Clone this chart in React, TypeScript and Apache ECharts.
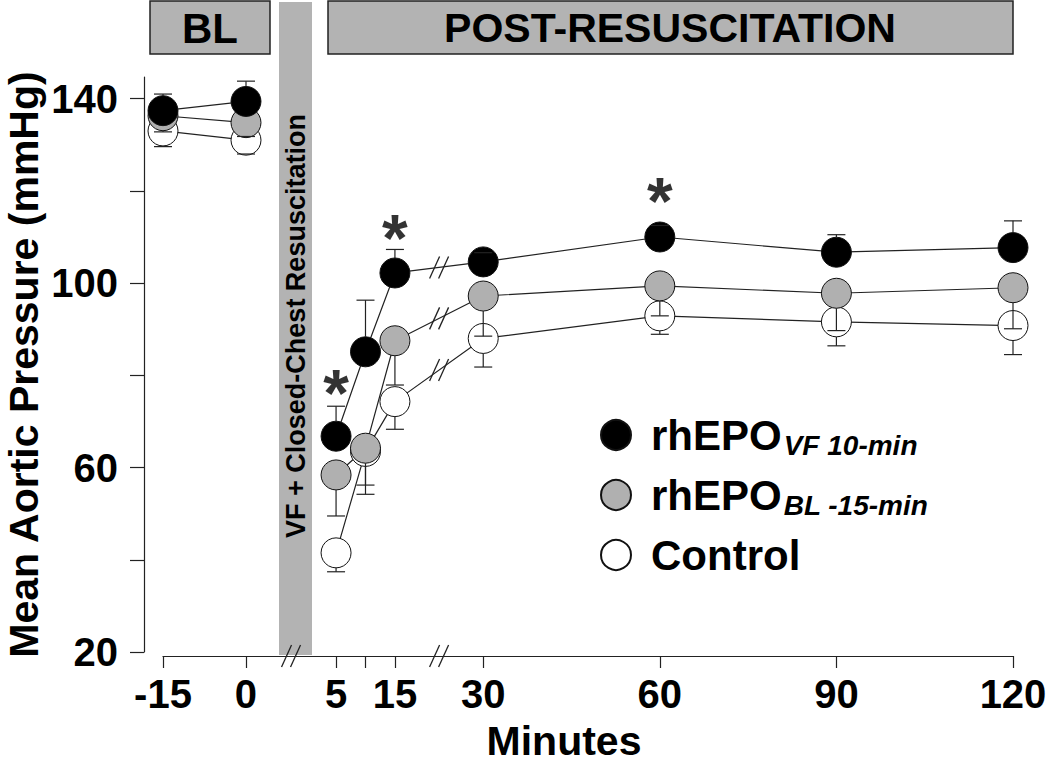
import React, { useEffect, useRef } from 'react';
import * as echarts from 'echarts';

// ---------- data ----------
const times = [-15, 0, 5, 10, 15, 30, 60, 90, 120];

const groupLabels = ['rhEPO', 'rhEPO', 'Control'];
const groupSubscripts = ['VF 10-min', 'BL -15-min', ''];

const rhepoVF = [137.4, 139.4, 66.8, 85.1, 102.2, 104.6, 110.0, 106.7, 107.7];
const rhepoVFErr = [3.6, 4.4, 6.5, 11.2, 5.1, 2.0, 2.5, 3.8, 5.8];

const rhepoBL = [136.3, 134.8, 58.4, 64.2, 87.5, 97.2, 99.4, 97.8, 99.0];
const rhepoBLErr = [3.5, 3.0, 8.9, 10.0, 9.6, 8.7, 6.5, 8.1, 8.9];

const control = [133.0, 131.0, 41.5, 63.5, 74.3, 88.0, 92.9, 91.6, 90.8];
const controlErr = [3.4, 3.0, 4.1, 7.3, 6.0, 6.2, 4.0, 5.2, 6.3];

const xTickMinutes = [-15, 0, 5, 10, 15, 30, 60, 90, 120];
const xLabelMinutes = [-15, 0, 5, 15, 30, 60, 90, 120];
const yTickValues = [20, 40, 60, 80, 100, 120, 140];
const yLabelValues = [20, 60, 100, 140];

const sigMinutes = [5, 15, 60];
const sigLevels = [78.5, 112.1, 120.2];

// ---------- styling / layout ----------
const FONT = '"Liberation Sans", Arial, Helvetica, sans-serif';
const FILLS = ['#000000', '#b0b0b0', '#ffffff'];
const ERR_DIR = [1, -1, -1];
const INK = '#222222';
const BOX = '#b3b3b3';

// broken time axis: baseline section is compressed and shifted
const PRE_ORIGIN = -10.3;
const PRE_SCALE = 0.94;
const pos = (t: number) => (t >= 5 ? t : PRE_ORIGIN + t * PRE_SCALE);

export default function App() {
  const ref = useRef<HTMLDivElement>(null);

  useEffect(() => {
    if (!ref.current) return;
    const chart = echarts.init(ref.current, undefined, { renderer: 'svg' });

    const groups = [
      { vals: rhepoVF, errs: rhepoVFErr },
      { vals: rhepoBL, errs: rhepoBLErr },
      { vals: control, errs: controlErr },
    ];
    const names = groupLabels.map((l, i) => (groupSubscripts[i] ? l + ' ' + groupSubscripts[i] : l));

    const series: any[] = [];
    const errData: number[][] = [];
    const slashData: number[][] = [];

    groups.forEach((g, gi) => {
      const pre = times.map((t, i) => [t, g.vals[i]]).filter((d) => d[0] <= 0).map((d) => [pos(d[0]), d[1]]);
      const post = times.map((t, i) => [t, g.vals[i]]).filter((d) => d[0] >= 5).map((d) => [pos(d[0]), d[1]]);
      [pre, post].forEach((data, k) => {
        series.push({
          type: 'line',
          name: 'line-' + gi + '-' + k,
          data,
          symbol: 'none',
          silent: true,
          z: 2,
          lineStyle: { color: INK, width: 1.2 },
        });
      });
      series.push({
        type: 'scatter',
        name: names[gi],
        data: times.map((t, i) => [pos(t), g.vals[i]]),
        symbol: 'circle',
        symbolSize: 30,
        z: 5 - gi,
        itemStyle: { color: FILLS[gi], borderColor: '#111', borderWidth: 1, opacity: 1 },
      });
      times.forEach((t, i) => errData.push([pos(t), g.vals[i], g.errs[i], ERR_DIR[gi]]));
      const i15 = times.indexOf(15);
      const i30 = times.indexOf(30);
      slashData.push([(pos(15) + pos(30)) / 2, (g.vals[i15] + g.vals[i30]) / 2, 0]);
    });

    // axis break marks
    slashData.push([(pos(0) + pos(5)) / 2, 20, 4]);
    slashData.push([(pos(15) + pos(30)) / 2, 20, 4]);

    series.push({
      type: 'custom',
      name: 'errorbars',
      z: 8,
      silent: true,
      data: errData,
      renderItem: (params: any, api: any) => {
        const x = api.value(0);
        const m = api.value(1);
        const e = api.value(2);
        const d = api.value(3);
        const c = api.coord([x, m]);
        const p = api.coord([x, m + d * e]);
        const r = 15;
        const style = { stroke: INK, lineWidth: 1.2, fill: null };
        const children: any[] = [];
        if (Math.abs(p[1] - c[1]) > r) {
          children.push({ type: 'line', shape: { x1: c[0], y1: c[1] - d * r, x2: p[0], y2: p[1] }, style });
        }
        children.push({ type: 'line', shape: { x1: p[0] - 9, y1: p[1], x2: p[0] + 9, y2: p[1] }, style });
        return { type: 'group', children };
      },
    });

    series.push({
      type: 'custom',
      name: 'breaks',
      z: 9,
      silent: true,
      data: slashData,
      renderItem: (params: any, api: any) => {
        const c = api.coord([api.value(0), api.value(1)]);
        const cy = c[1] + api.value(2);
        const style = { stroke: INK, lineWidth: 1.3, fill: null };
        const children = [-4.5, 4.5].map((k) => ({
          type: 'line',
          shape: { x1: c[0] + k - 5, y1: cy + 11, x2: c[0] + k + 5, y2: cy - 11 },
          style,
        }));
        return { type: 'group', children };
      },
    });

    series.push({
      type: 'scatter',
      name: 'significance',
      z: 10,
      silent: true,
      symbol: 'circle',
      symbolSize: 1,
      itemStyle: { color: 'rgba(0,0,0,0)' },
      data: sigMinutes.map((t, i) => [pos(t), sigLevels[i]]),
      label: {
        show: true,
        position: 'inside',
        formatter: '*',
        fontSize: 66,
        fontWeight: 'bold',
        fontFamily: FONT,
        color: '#000',
        offset: [0, 11],
      },
    });

    const axisText = { fontSize: 40, fontWeight: 'bold', fontFamily: FONT, color: '#000' };

    const option: any = {
      animation: false,
      backgroundColor: '#ffffff',
      grid: { left: 163, right: 37, top: 77, bottom: 111, containLabel: false, outerBoundsMode: 'none' },
      xAxis: {
        type: 'value',
        min: pos(-15),
        max: 120,
        offset: 4,
        splitLine: { show: false },
        axisLine: { show: true, onZero: false, lineStyle: { color: INK, width: 1.2 } },
        axisTick: { show: true, length: 12, customValues: xTickMinutes.map(pos), lineStyle: { color: INK, width: 1.2 } },
        axisLabel: {
          ...axisText,
          margin: 18,
          showMinLabel: true,
          showMaxLabel: true,
          customValues: xLabelMinutes.map(pos),
          formatter: (v: number) => {
            const i = xLabelMinutes.findIndex((t) => Math.abs(pos(t) - v) < 1e-6);
            return i >= 0 ? String(xLabelMinutes[i]) : '';
          },
        },
        name: 'Minutes',
        nameLocation: 'middle',
        nameGap: 64,
        nameMoveOverlap: false,
        nameTextStyle: { fontSize: 41, fontWeight: 'bold', fontFamily: FONT, color: '#000', padding: [0, 48, 0, 0] },
      },
      yAxis: {
        type: 'value',
        min: 20,
        max: 144.7,
        offset: 19,
        splitLine: { show: false },
        axisLine: { show: true, onZero: false, lineStyle: { color: INK, width: 1.2 } },
        axisTick: { show: true, length: 14, customValues: yTickValues, lineStyle: { color: INK, width: 1.2 } },
        axisLabel: { ...axisText, margin: 26, customValues: yLabelValues },
        name: 'Mean Aortic Pressure (mmHg)',
        nameLocation: 'middle',
        nameRotate: 90,
        nameGap: 101,
        nameMoveOverlap: false,
        nameTextStyle: { fontSize: 41, lineHeight: 38, fontWeight: 'bold', fontFamily: FONT, color: '#000' },
      },
      legend: {
        data: names,
        orient: 'vertical',
        left: 600,
        top: 404,
        padding: 0,
        itemWidth: 30,
        itemHeight: 30,
        itemGap: -2,
        icon: 'circle',
        selectedMode: false,
        formatter: (name: string) => {
          const i = names.indexOf(name);
          const main = '{m|' + groupLabels[i] + '}';
          return groupSubscripts[i] ? main + '{s|' + groupSubscripts[i] + '}' : main;
        },
        textStyle: {
          fontFamily: FONT,
          color: '#000',
          rich: {
            m: { fontSize: 42, fontWeight: 'bold', fontFamily: FONT, color: '#000', lineHeight: 40, padding: [10, 0, 10, 15] },
            s: { fontSize: 28, fontWeight: 'bold', fontStyle: 'italic', fontFamily: FONT, color: '#000', lineHeight: 40, padding: [20, 0, 0, 2] },
          },
        },
      },
      graphic: [
        { type: 'rect', z: -5, shape: { x: 279, y: 2, width: 33, height: 653 }, style: { fill: BOX } },
        {
          type: 'text',
          z: 1,
          x: 296,
          y: 326,
          rotation: Math.PI / 2,
          style: {
            text: 'VF + Closed-Chest Resuscitation',
            fontSize: 27,
            fontWeight: 'bold',
            fontFamily: FONT,
            fill: '#000',
            align: 'center',
            verticalAlign: 'middle',
          },
        },
        { type: 'rect', z: 1, shape: { x: 150, y: 1, width: 120, height: 53 }, style: { fill: BOX, stroke: INK, lineWidth: 1.5 } },
        {
          type: 'text',
          z: 2,
          x: 210,
          y: 28,
          style: { text: 'BL', fontSize: 42, fontWeight: 'bold', fontFamily: FONT, fill: '#000', align: 'center', verticalAlign: 'middle' },
        },
        { type: 'rect', z: 1, shape: { x: 328, y: 1, width: 685, height: 53 }, style: { fill: BOX, stroke: INK, lineWidth: 1.5 } },
        {
          type: 'text',
          z: 2,
          x: 670,
          y: 28,
          style: {
            text: 'POST-RESUSCITATION',
            fontSize: 41,
            fontWeight: 'bold',
            fontFamily: FONT,
            fill: '#000',
            align: 'center',
            verticalAlign: 'middle',
          },
        },
      ],
      series,
    };

    chart.setOption(option);
    return () => chart.dispose();
  }, []);

  return <div ref={ref} style={{ position: 'fixed', left: 0, top: 0, width: 1050, height: 763 }} />;
}
